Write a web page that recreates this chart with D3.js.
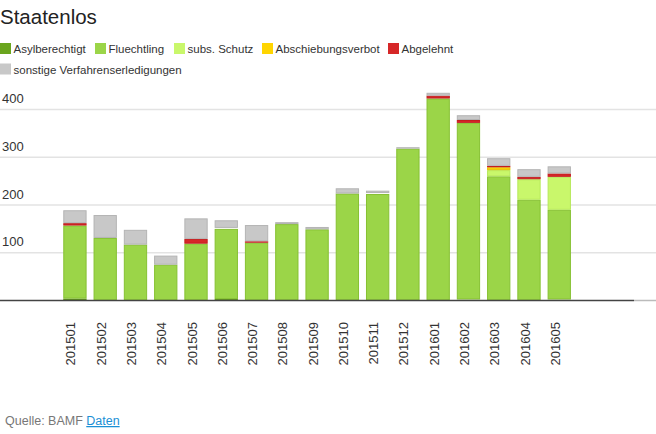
<!DOCTYPE html>
<html><head><meta charset="utf-8">
<script src="https://cdn.jsdelivr.net/npm/d3@7"></script>
<style>
body{margin:0;background:#fff;font-family:"Liberation Sans",Arial,Helvetica,sans-serif;}
svg{display:block;}
</style></head>
<body>
<svg id="c" width="656" height="434"></svg>
<script>
const months = ["201501","201502","201503","201504","201505","201506","201507","201508","201509","201510","201511","201512","201601","201602","201603","201604","201605"];
const seriesNames = ["Asylberechtigt","Fluechtling","subs. Schutz","Abschiebungsverbot","Abgelehnt","sonstige Verfahrenserledigungen"];
const seriesColors = ["#6aa51e","#9bd548","#c9f76b","#ffd500","#d62728","#c8c8c8"];
const seriesStrokes = ["#5e9418","#86c132","#b6e85a","#e8c200","#c41e1f","#b4b4b4"];
const asylberechtigt = [4,0,0,0,0,3,0,0,0,0,0,0,0,2,0,0,2];
const fluechtling    = [153,131,117,75,119,147,121,160,149,224,223,318,423,370,260,211,188];
const subsSchutz     = [0,0,0,0,0,0,0,0,0,0,0,0,0,0,13,43,69];
const abschiebung    = [0,0,0,0,0,0,0,0,0,0,0,0,0,0,6,0,0];
const abgelehnt      = [5,0,0,0,10,2,3,0,0,0,2,0,6,6,3,5,7];
const sonstige       = [27,48,31,19,43,16,34,4,5,11,5,3,6,10,16,16,15];
const yTicks = [100,200,300,400];

const seriesValues = [asylberechtigt,fluechtling,subsSchutz,abschiebung,abgelehnt,sonstige];
const rows = months.map((m,i)=>{const r={month:m};seriesNames.forEach((s,j)=>r[s]=seriesValues[j][i]);return r;});
const stacked = d3.stack().keys(seriesNames)(rows);

const svg = d3.select("#c");
const x = d3.scaleBand().domain(months).range([59.8,574.4]).paddingInner(0.23).paddingOuter(0.115);
const y = d3.scaleLinear().domain([0,400]).range([300.5,109.5]);

// title
svg.append("text").attr("x",0).attr("y",23.5).attr("font-size",20.5).attr("fill","#222").text("Staatenlos");

// legend
const legendPos = [[0,43],[95,43],[174,43],[262,43],[388,43],[0,63.5]];
const lg = svg.append("g");
seriesNames.forEach((s,i)=>{
  const g = lg.append("g").attr("transform",`translate(${legendPos[i][0]},${legendPos[i][1]})`);
  g.append("rect").attr("width",11).attr("height",11).attr("fill",seriesColors[i]);
  g.append("text").attr("x",13.5).attr("y",10.2).attr("font-size",11.5).attr("fill","#333").text(s);
});

// grid
const grid = svg.append("g");
yTicks.forEach(t=>{
  grid.append("line").attr("x1",0).attr("x2",656).attr("y1",y(t)).attr("y2",y(t)).attr("stroke","#e3e3e3").attr("stroke-width",1.3);
  grid.append("text").attr("x",2).attr("y",y(t)-6.5).attr("font-size",13).attr("fill","#333").text(t);
});

// bars
const bars = svg.append("g");
stacked.forEach((layer,j)=>{
  bars.append("g").selectAll("rect").data(layer.filter(d=>d[1]-d[0]>0)).join("rect")
    .attr("x",d=>x(d.data.month)+0.5)
    .attr("width",x.bandwidth()-1)
    .attr("y",d=>y(d[1])+0.5)
    .attr("height",d=>Math.max(0,y(d[0])-y(d[1])-1))
    .attr("fill",seriesColors[j])
    .attr("stroke",seriesStrokes[j])
    .attr("stroke-width",1);
});

// baseline
svg.append("line").attr("x1",634).attr("x2",656).attr("y1",y(0)).attr("y2",y(0)).attr("stroke","#bbb").attr("stroke-width",1.5);
svg.append("line").attr("x1",0).attr("x2",634).attr("y1",y(0)).attr("y2",y(0)).attr("stroke","#444").attr("stroke-width",1.5);

// x axis labels
const xa = svg.append("g");
months.forEach(m=>{
  const cx = x(m)+x.bandwidth()/2-4;
  xa.append("text").attr("transform",`translate(${cx},322) rotate(-90)`)
    .attr("text-anchor","end").attr("dy","0.35em").attr("font-size",13).attr("fill","#333").text(m);
});

// footer
const ft = svg.append("text").attr("x",5).attr("y",425).attr("font-size",12.5).attr("fill","#777");
ft.append("tspan").text("Quelle: BAMF ");
ft.append("tspan").attr("fill","#1a8fd5").attr("text-decoration","underline").text("Daten");
</script>
</body></html>
